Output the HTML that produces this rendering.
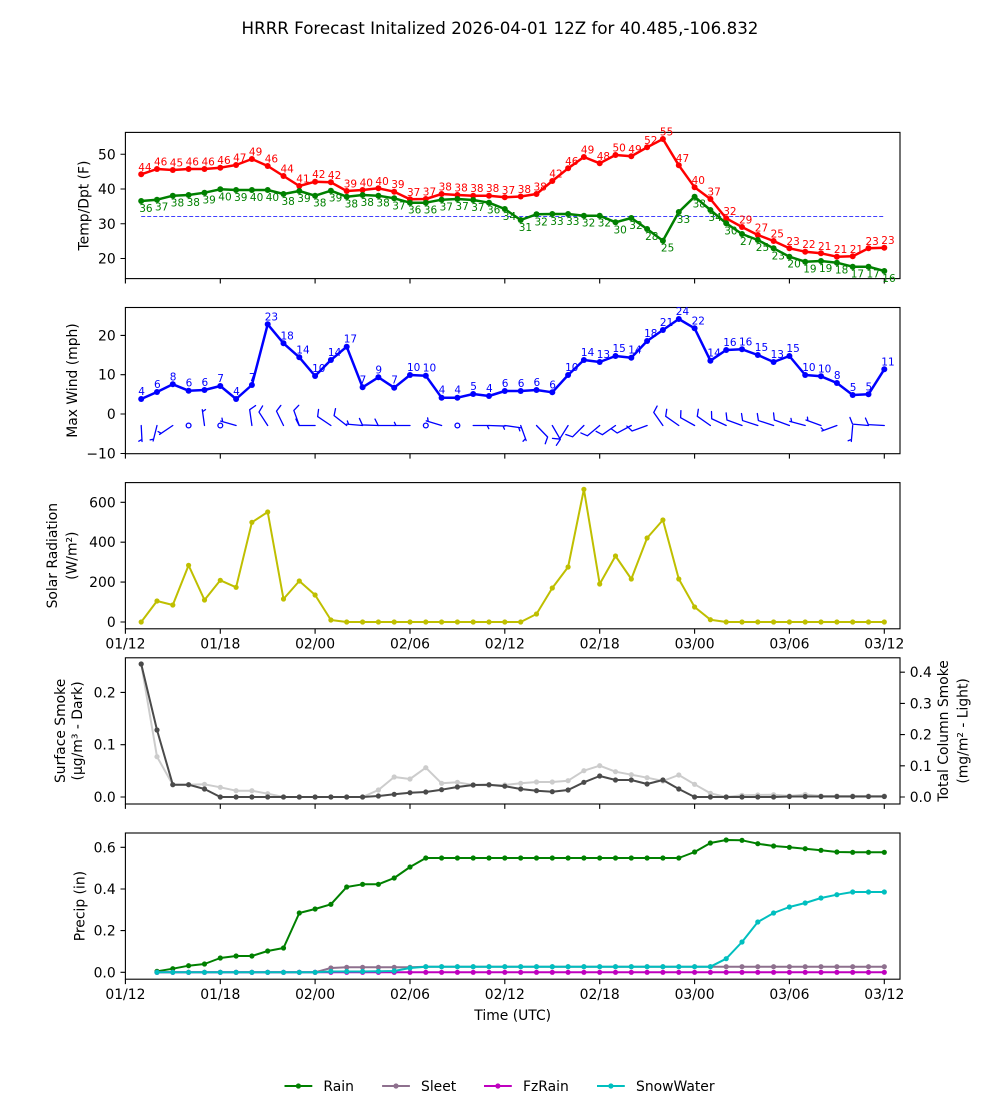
<!DOCTYPE html>
<html><head><meta charset="utf-8"><style>
html,body{margin:0;padding:0;background:#fff;}
svg{display:block;font-family:"DejaVu Sans","Liberation Sans",sans-serif;}
</style></head><body>
<svg width="1000" height="1100" viewBox="0 0 1000 1100" xmlns="http://www.w3.org/2000/svg">
<defs>
<marker id="mr" viewBox="-4 -4 8 8" markerWidth="8" markerHeight="8" refX="0" refY="0" markerUnits="userSpaceOnUse"><circle r="3" fill="#ff0000"/></marker>
<marker id="mg" viewBox="-4 -4 8 8" markerWidth="8" markerHeight="8" refX="0" refY="0" markerUnits="userSpaceOnUse"><circle r="3" fill="#008000"/></marker>
<marker id="mb" viewBox="-4 -4 8 8" markerWidth="8" markerHeight="8" refX="0" refY="0" markerUnits="userSpaceOnUse"><circle r="3" fill="#0000ff"/></marker>
<marker id="my" viewBox="-4 -4 8 8" markerWidth="8" markerHeight="8" refX="0" refY="0" markerUnits="userSpaceOnUse"><circle r="2.6" fill="#bfbf00"/></marker>
<marker id="md" viewBox="-4 -4 8 8" markerWidth="8" markerHeight="8" refX="0" refY="0" markerUnits="userSpaceOnUse"><circle r="2.6" fill="#4a4a4a"/></marker>
<marker id="ml" viewBox="-4 -4 8 8" markerWidth="8" markerHeight="8" refX="0" refY="0" markerUnits="userSpaceOnUse"><circle r="2.6" fill="#cccccc"/></marker>
<marker id="mrain" viewBox="-4 -4 8 8" markerWidth="8" markerHeight="8" refX="0" refY="0" markerUnits="userSpaceOnUse"><circle r="2.6" fill="#008000"/></marker>
<marker id="msl" viewBox="-4 -4 8 8" markerWidth="8" markerHeight="8" refX="0" refY="0" markerUnits="userSpaceOnUse"><circle r="2.6" fill="#8e708e"/></marker>
<marker id="mfz" viewBox="-4 -4 8 8" markerWidth="8" markerHeight="8" refX="0" refY="0" markerUnits="userSpaceOnUse"><circle r="2.6" fill="#bf00bf"/></marker>
<marker id="msw" viewBox="-4 -4 8 8" markerWidth="8" markerHeight="8" refX="0" refY="0" markerUnits="userSpaceOnUse"><circle r="2.6" fill="#00bfbf"/></marker>
<path id="bf" d="M0,0 L16,0 L19.2,6.4"/>
<path id="bh" d="M0,0 L16,0 M14,0 L15.6,3.2"/>
</defs>

<rect width="1000" height="1100" fill="#fff"/>

<!-- Title -->
<text x="500" y="34" font-size="16.7" text-anchor="middle" fill="#000">HRRR Forecast Initalized 2026-04-01 12Z for 40.485,-106.832</text>

<!-- Axes frames -->
<g fill="none" stroke="#000" stroke-width="1.1">
<rect x="125.4" y="132.4" width="774.6" height="146.2"/>
<rect x="125.4" y="307.5" width="774.6" height="146.2"/>
<rect x="125.4" y="482.6" width="774.6" height="146.2"/>
<rect x="125.4" y="657.8" width="774.6" height="146.2"/>
<rect x="125.4" y="833" width="774.6" height="146.2"/>
</g>

<!-- Ticks -->
<g stroke="#000" stroke-width="1.1" fill="none">
<path d="M125.4,278.6v4.9M220.3,278.6v4.9M315.1,278.6v4.9M410,278.6v4.9M504.8,278.6v4.9M599.7,278.6v4.9M694.6,278.6v4.9M789.4,278.6v4.9M884.3,278.6v4.9"/>
<path d="M125.4,453.7v4.9M220.3,453.7v4.9M315.1,453.7v4.9M410,453.7v4.9M504.8,453.7v4.9M599.7,453.7v4.9M694.6,453.7v4.9M789.4,453.7v4.9M884.3,453.7v4.9"/>
<path d="M125.4,628.8v4.9M220.3,628.8v4.9M315.1,628.8v4.9M410,628.8v4.9M504.8,628.8v4.9M599.7,628.8v4.9M694.6,628.8v4.9M789.4,628.8v4.9M884.3,628.8v4.9"/>
<path d="M125.4,804v4.9M220.3,804v4.9M315.1,804v4.9M410,804v4.9M504.8,804v4.9M599.7,804v4.9M694.6,804v4.9M789.4,804v4.9M884.3,804v4.9"/>
<path d="M125.4,979.2v4.9M220.3,979.2v4.9M315.1,979.2v4.9M410,979.2v4.9M504.8,979.2v4.9M599.7,979.2v4.9M694.6,979.2v4.9M789.4,979.2v4.9M884.3,979.2v4.9"/>
<!-- y ticks -->
<path d="M120.5,258.5h4.9M120.5,223.75h4.9M120.5,189h4.9M120.5,154.25h4.9"/>
<path d="M120.5,453.5h4.9M120.5,414h4.9M120.5,374.7h4.9M120.5,335.4h4.9"/>
<path d="M120.5,622h4.9M120.5,582.1h4.9M120.5,542.2h4.9M120.5,502.3h4.9"/>
<path d="M120.5,797h4.9M120.5,744.7h4.9M120.5,692.4h4.9"/>
<path d="M900,797h4.9M900,765.8h4.9M900,734.6h4.9M900,703.4h4.9M900,672.2h4.9"/>
<path d="M120.5,972.3h4.9M120.5,930.6h4.9M120.5,889h4.9M120.5,847.3h4.9"/>
</g>

<!-- Tick labels -->
<g font-size="13.9" fill="#000" text-anchor="end">
<text x="115.7" y="263.5">20</text><text x="115.7" y="228.75">30</text><text x="115.7" y="194">40</text><text x="115.7" y="159.25">50</text>
<text x="115.7" y="458.5">−10</text><text x="115.7" y="419">0</text><text x="115.7" y="379.7">10</text><text x="115.7" y="340.4">20</text>
<text x="115.7" y="627">0</text><text x="115.7" y="587.1">200</text><text x="115.7" y="547.2">400</text><text x="115.7" y="507.3">600</text>
<text x="115.7" y="802">0.0</text><text x="115.7" y="749.7">0.1</text><text x="115.7" y="697.4">0.2</text>
<text x="115.7" y="977.3">0.0</text><text x="115.7" y="935.6">0.2</text><text x="115.7" y="894">0.4</text><text x="115.7" y="852.3">0.6</text>
</g>
<g font-size="13.9" fill="#000" text-anchor="start">
<text x="909.7" y="802">0.0</text><text x="909.7" y="770.8">0.1</text><text x="909.7" y="739.6">0.2</text><text x="909.7" y="708.4">0.3</text><text x="909.7" y="677.2">0.4</text>
</g>
<g font-size="13.9" fill="#000" text-anchor="middle">
<text x="125.4" y="648.5">01/12</text><text x="220.3" y="648.5">01/18</text><text x="315.1" y="648.5">02/00</text><text x="410" y="648.5">02/06</text><text x="504.8" y="648.5">02/12</text><text x="599.7" y="648.5">02/18</text><text x="694.6" y="648.5">03/00</text><text x="789.4" y="648.5">03/06</text><text x="884.3" y="648.5">03/12</text>
<text x="125.4" y="999">01/12</text><text x="220.3" y="999">01/18</text><text x="315.1" y="999">02/00</text><text x="410" y="999">02/06</text><text x="504.8" y="999">02/12</text><text x="599.7" y="999">02/18</text><text x="694.6" y="999">03/00</text><text x="789.4" y="999">03/06</text><text x="884.3" y="999">03/12</text>
<text x="512.7" y="1020">Time (UTC)</text>
</g>

<!-- Axis labels -->
<g font-size="13.9" fill="#000" text-anchor="middle">
<text transform="translate(88.5,205.5) rotate(-90)">Temp/Dpt (F)</text>
<text transform="translate(77,380.5) rotate(-90)">Max Wind (mph)</text>
<text transform="translate(57,555.7) rotate(-90)">Solar Radiation</text>
<text transform="translate(76.5,555.7) rotate(-90)">(W/m²)</text>
<text transform="translate(65,730.9) rotate(-90)">Surface Smoke</text>
<text transform="translate(82,730.9) rotate(-90)">(μg/m³ - Dark)</text>
<text transform="translate(84.5,906.1) rotate(-90)">Precip (in)</text>
<text transform="translate(948,730.9) rotate(-90)">Total Column Smoke</text>
<text transform="translate(967.5,730.9) rotate(-90)">(mg/m² - Light)</text>
</g>

<!-- Panel 1: Temp / Dewpoint -->
<line x1="141.2" y1="216.4" x2="884.3" y2="216.4" stroke="#0000ff" stroke-width="0.8" stroke-dasharray="4,2"/>
<polyline fill="none" stroke="#ff0000" stroke-width="2.5" stroke-linejoin="round" marker-start="url(#mr)" marker-mid="url(#mr)" marker-end="url(#mr)" points="141.2,174.3 157,169 172.8,170 188.6,169 204.5,169 220.3,167.7 236.1,165 251.9,159 267.7,166 283.5,176 299.3,186 315.1,181.7 330.9,182.3 346.7,191 362.6,190 378.4,188.3 394.2,191.7 410,199.3 425.8,199 441.6,194 457.4,195 473.2,195.7 489,195.7 504.8,197.3 520.7,196.5 536.5,194 552.3,181 568.1,168.3 583.9,157 599.7,163.3 615.5,155 631.3,156.3 647.1,147.3 662.9,139 678.8,165.3 694.6,187.3 710.4,199 726.2,218.3 742,227 757.8,235 773.6,241 789.4,248.3 805.2,251.7 821,253.3 836.9,256.7 852.7,256.3 868.5,248.3 884.3,247.7"/>
<polyline fill="none" stroke="#008000" stroke-width="2.5" stroke-linejoin="round" marker-start="url(#mg)" marker-mid="url(#mg)" marker-end="url(#mg)" points="141.2,201 157,199.7 172.8,195.7 188.6,195 204.5,192.7 220.3,189.3 236.1,190 251.9,190 267.7,190 283.5,194 299.3,191 315.1,195.7 330.9,190.7 346.7,196.7 362.6,195 378.4,195.7 394.2,198.3 410,202.7 425.8,202.7 441.6,199.7 457.4,199 473.2,200 489,202.7 504.8,209 520.7,220 536.5,214.3 552.3,214 568.1,214 583.9,215.7 599.7,215.7 615.5,222.3 631.3,218 647.1,229 662.9,240.7 678.8,212 694.6,196.7 710.4,210 726.2,223.3 742,234 757.8,240 773.6,248.3 789.4,256.7 805.2,261.7 821,261 836.9,262.7 852.7,266.7 868.5,266.7 884.3,271"/>
<g font-size="10.5" fill="#ff0000">
<text x="138.2" y="170.8">44</text><text x="154" y="165.5">46</text><text x="169.8" y="166.5">45</text><text x="185.6" y="165.5">46</text><text x="201.5" y="165.5">46</text><text x="217.3" y="164.2">46</text><text x="233.1" y="161.5">47</text><text x="248.9" y="155.5">49</text><text x="264.7" y="162.5">46</text><text x="280.5" y="172.5">44</text><text x="296.3" y="182.5">41</text><text x="312.1" y="178.2">42</text><text x="327.9" y="178.8">42</text><text x="343.7" y="187.5">39</text><text x="359.6" y="186.5">40</text><text x="375.4" y="184.8">40</text><text x="391.2" y="188.2">39</text><text x="407" y="195.8">37</text><text x="422.8" y="195.5">37</text><text x="438.6" y="190.5">38</text><text x="454.4" y="191.5">38</text><text x="470.2" y="192.2">38</text><text x="486" y="192.2">38</text><text x="501.8" y="193.8">37</text><text x="517.7" y="193">38</text><text x="533.5" y="190.5">38</text><text x="549.3" y="177.5">42</text><text x="565.1" y="164.8">46</text><text x="580.9" y="153.5">49</text><text x="596.7" y="159.8">48</text><text x="612.5" y="151.5">50</text><text x="628.3" y="152.8">49</text><text x="644.1" y="143.8">52</text><text x="659.9" y="135.5">55</text><text x="675.8" y="161.8">47</text><text x="691.6" y="183.8">40</text><text x="707.4" y="195.5">37</text><text x="723.2" y="214.8">32</text><text x="739" y="223.5">29</text><text x="754.8" y="231.5">27</text><text x="770.6" y="237.5">25</text><text x="786.4" y="244.8">23</text><text x="802.2" y="248.2">22</text><text x="818" y="249.8">21</text><text x="833.9" y="253.2">21</text><text x="849.7" y="252.8">21</text><text x="865.5" y="244.8">23</text><text x="881.3" y="244.2">23</text>
</g>
<g font-size="10.5" fill="#008000">
<text x="139.2" y="212">36</text><text x="155" y="210.7">37</text><text x="170.8" y="206.7">38</text><text x="186.6" y="206">38</text><text x="202.5" y="203.7">39</text><text x="218.3" y="200.3">40</text><text x="234.1" y="201">39</text><text x="249.9" y="201">40</text><text x="265.7" y="201">40</text><text x="281.5" y="205">38</text><text x="297.3" y="202">39</text><text x="313.1" y="206.7">38</text><text x="328.9" y="201.7">39</text><text x="344.7" y="207.7">38</text><text x="360.6" y="206">38</text><text x="376.4" y="206.7">38</text><text x="392.2" y="209.3">37</text><text x="408" y="213.7">36</text><text x="423.8" y="213.7">36</text><text x="439.6" y="210.7">37</text><text x="455.4" y="210">37</text><text x="471.2" y="211">37</text><text x="487" y="213.7">36</text><text x="502.8" y="220">34</text><text x="518.7" y="231">31</text><text x="534.5" y="225.3">32</text><text x="550.3" y="225">33</text><text x="566.1" y="225">33</text><text x="581.9" y="226.7">32</text><text x="597.7" y="226.7">32</text><text x="613.5" y="233.3">30</text><text x="629.3" y="229">32</text><text x="645.1" y="240">28</text><text x="660.9" y="251.7">25</text><text x="676.8" y="223">33</text><text x="692.6" y="207.7">38</text><text x="708.4" y="221">34</text><text x="724.2" y="234.3">30</text><text x="740" y="245">27</text><text x="755.8" y="251">25</text><text x="771.6" y="259.3">23</text><text x="787.4" y="267.7">20</text><text x="803.2" y="272.7">19</text><text x="819" y="272">19</text><text x="834.9" y="273.7">18</text><text x="850.7" y="277.7">17</text><text x="866.5" y="277.7">17</text><text x="882.3" y="282">16</text>
</g>

<!-- Panel 2: Wind -->
<polyline fill="none" stroke="#0000ff" stroke-width="2.5" stroke-linejoin="round" marker-start="url(#mb)" marker-mid="url(#mb)" marker-end="url(#mb)" points="141.2,399 157,392 172.8,384.3 188.6,390.7 204.5,390 220.3,386 236.1,399 251.9,385 267.7,324.3 283.5,343.3 299.3,357.3 315.1,376 330.9,360 346.7,346.7 362.6,387.3 378.4,377.3 394.2,387.7 410,375 425.8,375.7 441.6,397.7 457.4,397.7 473.2,394 489,396 504.8,391 520.7,391 536.5,390 552.3,392.3 568.1,375 583.9,360 599.7,362 615.5,356 631.3,357.7 647.1,341 662.9,330 678.8,319 694.6,328.3 710.4,360.7 726.2,350 742,349.3 757.8,355 773.6,362 789.4,356 805.2,375 821,376.3 836.9,383 852.7,395 868.5,394.3 884.3,369.3"/>
<g font-size="10.5" fill="#0000ff">
<text x="138.2" y="395">4</text><text x="154" y="388">6</text><text x="169.8" y="380.3">8</text><text x="185.6" y="386.7">6</text><text x="201.5" y="386">6</text><text x="217.3" y="382">7</text><text x="233.1" y="395">4</text><text x="248.9" y="381">7</text><text x="264.7" y="320.3">23</text><text x="280.5" y="339.3">18</text><text x="296.3" y="353.3">14</text><text x="312.1" y="372">10</text><text x="327.9" y="356">14</text><text x="343.7" y="342.7">17</text><text x="359.6" y="383.3">7</text><text x="375.4" y="373.3">9</text><text x="391.2" y="383.7">7</text><text x="407" y="371">10</text><text x="422.8" y="371.7">10</text><text x="438.6" y="393.7">4</text><text x="454.4" y="393.7">4</text><text x="470.2" y="390">5</text><text x="486" y="392">4</text><text x="501.8" y="387">6</text><text x="517.7" y="387">6</text><text x="533.5" y="386">6</text><text x="549.3" y="388.3">6</text><text x="565.1" y="371">10</text><text x="580.9" y="356">14</text><text x="596.7" y="358">13</text><text x="612.5" y="352">15</text><text x="628.3" y="353.7">14</text><text x="644.1" y="337">18</text><text x="659.9" y="326">21</text><text x="675.8" y="315">24</text><text x="691.6" y="324.3">22</text><text x="707.4" y="356.7">14</text><text x="723.2" y="346">16</text><text x="739" y="345.3">16</text><text x="754.8" y="351">15</text><text x="770.6" y="358">13</text><text x="786.4" y="352">15</text><text x="802.2" y="371">10</text><text x="818" y="372.3">10</text><text x="833.9" y="379">8</text><text x="849.7" y="391">5</text><text x="865.5" y="390.3">5</text><text x="881.3" y="365.3">11</text>
</g>
<!-- wind barbs -->
<g stroke="#0000ff" stroke-width="1.3" fill="none" stroke-linecap="round" stroke-linejoin="round">
<use href="#bh" transform="translate(141.2,425.5) rotate(87)"/>
<use href="#bh" transform="translate(157,425.5) rotate(104)"/>
<use href="#bh" transform="translate(172.8,425.5) rotate(146)"/>
<circle cx="188.6" cy="425.5" r="2.4"/>
<use href="#bh" transform="translate(204.5,425.5) rotate(262)"/>
<circle cx="220.3" cy="425.5" r="2.4"/>
<use href="#bh" transform="translate(236.1,425.5) rotate(196)"/>
<use href="#bf" transform="translate(251.9,425.5) rotate(262)"/>
<use href="#bf" transform="translate(267.7,425.5) rotate(237)"/>
<use href="#bf" transform="translate(283.5,425.5) rotate(244)"/>
<use href="#bf" transform="translate(299.3,425.5) rotate(250)"/>
<use href="#bf" transform="translate(315.1,425.5) rotate(180)"/>
<use href="#bf" transform="translate(330.9,425.5) rotate(214)"/>
<use href="#bf" transform="translate(346.7,425.5) rotate(218)"/>
<use href="#bh" transform="translate(362.6,425.5) rotate(185)"/>
<use href="#bf" transform="translate(378.4,425.5) rotate(182)"/>
<use href="#bf" transform="translate(394.2,425.5) rotate(180)"/>
<use href="#bh" transform="translate(410,425.5) rotate(180)"/>
<circle cx="425.8" cy="425.5" r="2.4"/>
<use href="#bh" transform="translate(441.6,425.5) rotate(197)"/>
<circle cx="457.4" cy="425.5" r="2.4"/>
<use href="#bh" transform="translate(473.2,425.5) rotate(0)"/>
<use href="#bh" transform="translate(489,425.5) rotate(2)"/>
<use href="#bh" transform="translate(504.8,425.5) rotate(8)"/>
<use href="#bh" transform="translate(520.7,425.5) rotate(70)"/>
<use href="#bf" transform="translate(536.5,425.5) rotate(46)"/>
<use href="#bf" transform="translate(552.3,425.5) rotate(60)"/>
<use href="#bf" transform="translate(568.1,425.5) rotate(122)"/>
<use href="#bf" transform="translate(583.9,425.5) rotate(135)"/>
<use href="#bf" transform="translate(599.7,425.5) rotate(140)"/>
<use href="#bf" transform="translate(615.5,425.5) rotate(145)"/>
<use href="#bf" transform="translate(631.3,425.5) rotate(152)"/>
<use href="#bf" transform="translate(647.1,425.5) rotate(160)"/>
<use href="#bf" transform="translate(662.9,425.5) rotate(235)"/>
<use href="#bf" transform="translate(678.8,425.5) rotate(215)"/>
<use href="#bf" transform="translate(694.6,425.5) rotate(209)"/>
<use href="#bf" transform="translate(710.4,425.5) rotate(215)"/>
<use href="#bf" transform="translate(726.2,425.5) rotate(205)"/>
<use href="#bf" transform="translate(742,425.5) rotate(200)"/>
<use href="#bf" transform="translate(757.8,425.5) rotate(198)"/>
<use href="#bf" transform="translate(773.6,425.5) rotate(198)"/>
<use href="#bf" transform="translate(789.4,425.5) rotate(200)"/>
<use href="#bh" transform="translate(805.2,425.5) rotate(195)"/>
<use href="#bh" transform="translate(821,425.5) rotate(200)"/>
<use href="#bh" transform="translate(836.9,425.5) rotate(160)"/>
<use href="#bh" transform="translate(852.7,425.5) rotate(95)"/>
<use href="#bf" transform="translate(868.5,425.5) rotate(185)"/>
<use href="#bf" transform="translate(884.3,425.5) rotate(183)"/>
</g>

<!-- Panel 3: Solar -->
<polyline fill="none" stroke="#bfbf00" stroke-width="2" stroke-linejoin="round" marker-start="url(#my)" marker-mid="url(#my)" marker-end="url(#my)" points="141.2,622 157,601 172.8,605 188.6,565.3 204.5,600 220.3,580.3 236.1,587.3 251.9,522.3 267.7,512 283.5,599 299.3,581 315.1,595 330.9,620 346.7,622 362.6,622 378.4,622 394.2,622 410,622 425.8,622 441.6,622 457.4,622 473.2,622 489,622 504.8,622 520.7,622 536.5,614 552.3,588 568.1,567 583.9,489.3 599.7,584 615.5,556 631.3,579 647.1,538 662.9,520 678.8,579 694.6,607 710.4,619.7 726.2,622 742,622 757.8,622 773.6,622 789.4,622 805.2,622 821,622 836.9,622 852.7,622 868.5,622 884.3,622"/>

<!-- Panel 4: Smoke -->
<polyline fill="none" stroke="#cccccc" stroke-width="2" stroke-linejoin="round" marker-start="url(#ml)" marker-mid="url(#ml)" marker-end="url(#ml)" points="141.2,664 157,756.7 172.8,784.7 188.6,784.7 204.5,784.3 220.3,787.3 236.1,790.7 251.9,790.7 267.7,793.7 283.5,797 299.3,797 315.1,797 330.9,797 346.7,797 362.6,797 378.4,790 394.2,777 410,779 425.8,767.7 441.6,783.3 457.4,782.3 473.2,785 489,785.3 504.8,785 520.7,783.3 536.5,782 552.3,782 568.1,780.7 583.9,770.7 599.7,765.7 615.5,771.7 631.3,774.7 647.1,777.7 662.9,781 678.8,775 694.6,784.3 710.4,793.3 726.2,797 742,795.3 757.8,795 773.6,794.7 789.4,796 805.2,794.5 821,796 836.9,796 852.7,796 868.5,796 884.3,796"/>
<polyline fill="none" stroke="#4a4a4a" stroke-width="2" stroke-linejoin="round" marker-start="url(#md)" marker-mid="url(#md)" marker-end="url(#md)" points="141.2,664 157,730 172.8,784.7 188.6,784.7 204.5,789 220.3,797 236.1,797 251.9,797 267.7,797 283.5,797 299.3,797 315.1,797 330.9,797 346.7,797 362.6,797 378.4,796 394.2,794.3 410,792.7 425.8,792 441.6,789.7 457.4,787 473.2,785 489,784.7 504.8,786.2 520.7,789 536.5,790.7 552.3,791.7 568.1,790 583.9,782.3 599.7,776 615.5,780 631.3,780 647.1,784 662.9,780 678.8,789 694.6,797 710.4,797 726.2,797 742,797 757.8,797 773.6,797 789.4,796.5 805.2,796.5 821,796.5 836.9,796.5 852.7,796.5 868.5,796.5 884.3,796.5"/>

<!-- Panel 5: Precip -->
<polyline fill="none" stroke="#008000" stroke-width="2" stroke-linejoin="round" marker-start="url(#mrain)" marker-mid="url(#mrain)" marker-end="url(#mrain)" points="157,971.3 172.8,968.7 188.6,965.7 204.5,964 220.3,958 236.1,956 251.9,956 267.7,951 283.5,948 299.3,913 315.1,909 330.9,904.3 346.7,887 362.6,884.3 378.4,884.3 394.2,878 410,867 425.8,858 441.6,858 457.4,858 473.2,858 489,858 504.8,858 520.7,858 536.5,858 552.3,858 568.1,858 583.9,858 599.7,858 615.5,858 631.3,858 647.1,858 662.9,858 678.8,858 694.6,852 710.4,843 726.2,840 742,840.3 757.8,843.7 773.6,846 789.4,847.3 805.2,848.7 821,850.3 836.9,852 852.7,852.3 868.5,852.3 884.3,852.3"/>
<polyline fill="none" stroke="#8e708e" stroke-width="2" stroke-linejoin="round" marker-start="url(#msl)" marker-mid="url(#msl)" marker-end="url(#msl)" points="157,972.3 172.8,972.3 188.6,972.3 204.5,972.3 220.3,972.3 236.1,972.3 251.9,972.3 267.7,972.3 283.5,972.3 299.3,972.3 315.1,972.3 330.9,968 346.7,967.3 362.6,967.3 378.4,967.3 394.2,967.3 410,967.3 425.8,966.7 441.6,966.7 457.4,966.7 473.2,966.7 489,966.7 504.8,966.7 520.7,966.7 536.5,966.7 552.3,966.7 568.1,966.7 583.9,966.7 599.7,966.7 615.5,966.7 631.3,966.7 647.1,966.7 662.9,966.7 678.8,966.7 694.6,966.7 710.4,966.7 726.2,966.7 742,966.7 757.8,966.7 773.6,966.7 789.4,966.7 805.2,966.7 821,966.7 836.9,966.7 852.7,966.7 868.5,966.7 884.3,966.7"/>
<polyline fill="none" stroke="#bf00bf" stroke-width="2" stroke-linejoin="round" marker-start="url(#mfz)" marker-mid="url(#mfz)" marker-end="url(#mfz)" points="157,972.3 172.8,972.3 188.6,972.3 204.5,972.3 220.3,972.3 236.1,972.3 251.9,972.3 267.7,972.3 283.5,972.3 299.3,972.3 315.1,972.3 330.9,972.3 346.7,972.3 362.6,972.3 378.4,972.3 394.2,972.3 410,972.3 425.8,972.3 441.6,972.3 457.4,972.3 473.2,972.3 489,972.3 504.8,972.3 520.7,972.3 536.5,972.3 552.3,972.3 568.1,972.3 583.9,972.3 599.7,972.3 615.5,972.3 631.3,972.3 647.1,972.3 662.9,972.3 678.8,972.3 694.6,972.3 710.4,972.3 726.2,972.3 742,972.3 757.8,972.3 773.6,972.3 789.4,972.3 805.2,972.3 821,972.3 836.9,972.3 852.7,972.3 868.5,972.3 884.3,972.3"/>
<polyline fill="none" stroke="#00bfbf" stroke-width="2" stroke-linejoin="round" marker-start="url(#msw)" marker-mid="url(#msw)" marker-end="url(#msw)" points="157,972.3 172.8,972.3 188.6,972.3 204.5,972.3 220.3,972.3 236.1,972.3 251.9,972.3 267.7,972.3 283.5,972.3 299.3,972.3 315.1,972.3 330.9,971.5 346.7,971.5 362.6,971.5 378.4,971.3 394.2,971 410,968 425.8,966.7 441.6,966.7 457.4,966.7 473.2,966.7 489,966.7 504.8,966.7 520.7,966.7 536.5,966.7 552.3,966.7 568.1,966.7 583.9,966.7 599.7,966.7 615.5,966.7 631.3,966.7 647.1,966.7 662.9,966.7 678.8,966.7 694.6,966.7 710.4,966.7 726.2,958.7 742,942 757.8,922 773.6,913 789.4,907 805.2,903 821,898 836.9,894.7 852.7,892 868.5,892 884.3,892"/>

<!-- Legend -->
<g stroke-width="2">
<line x1="284.5" y1="1086" x2="312.3" y2="1086" stroke="#008000"/><circle cx="298.4" cy="1086" r="2.6" fill="#008000" stroke="none"/>
<line x1="382.1" y1="1086" x2="409.9" y2="1086" stroke="#8e708e"/><circle cx="396" cy="1086" r="2.6" fill="#8e708e" stroke="none"/>
<line x1="484" y1="1086" x2="511.8" y2="1086" stroke="#bf00bf"/><circle cx="497.9" cy="1086" r="2.6" fill="#bf00bf" stroke="none"/>
<line x1="597" y1="1086" x2="624.8" y2="1086" stroke="#00bfbf"/><circle cx="610.9" cy="1086" r="2.6" fill="#00bfbf" stroke="none"/>
</g>
<g font-size="13.9" fill="#000">
<text x="323.4" y="1091">Rain</text>
<text x="421" y="1091">Sleet</text>
<text x="523" y="1091">FzRain</text>
<text x="636" y="1091">SnowWater</text>
</g>
</svg>
</body></html>
